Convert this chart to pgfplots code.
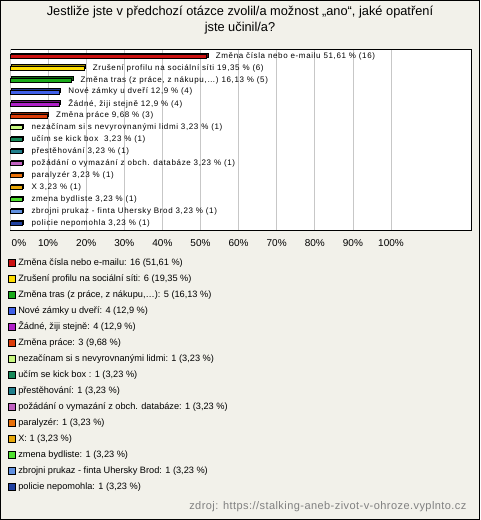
\documentclass[border=0pt]{standalone}
\usepackage{fontspec}
\setmainfont{Liberation Sans}
\newfontfamily\barfont[LetterSpace=8]{Liberation Sans}
\newfontfamily\srcfont[LetterSpace=4]{Liberation Sans}
\usepackage{pgfplots}
\pgfplotsset{compat=1.18}
\definecolor{bg}{HTML}{F2F1EA}
\definecolor{c1}{HTML}{CC1111}
\definecolor{c2}{HTML}{FFDD00}
\definecolor{c3}{HTML}{1AAA1A}
\definecolor{c4}{HTML}{4060E8}
\definecolor{c5}{HTML}{B020C8}
\definecolor{c6}{HTML}{DD3D0A}
\definecolor{c7}{HTML}{C8F880}
\definecolor{c8}{HTML}{168858}
\definecolor{c9}{HTML}{217F8C}
\definecolor{c10}{HTML}{C060C0}
\definecolor{c11}{HTML}{E8700A}
\definecolor{c12}{HTML}{E8A80A}
\definecolor{c13}{HTML}{50E030}
\definecolor{c14}{HTML}{6090E0}
\definecolor{c15}{HTML}{2040A0}
\newcommand{\mybar}[5]{%
  \addplot[fill=#1!60!black, draw=black, line width=0.4pt, xshift=1.3pt, yshift=1.3pt, forget plot] coordinates {(#2,#3)};
  \addplot[fill=#1, draw=black, line width=0.4pt, nodes near coords={#4}] coordinates {(#2,#3)};
  \addlegendentry{#5}
}
\begin{document}
\begin{tikzpicture}[x=1pt,y=1pt]
\fill[bg] (0,0) rectangle (480,-520);
\draw[black, line width=1pt] (0.5,-0.5) rectangle (479.5,-519.5);
\node[font=\fontsize{12.8}{16}\selectfont, align=center] at (240,-20) {Jestliže jste v předchozí otázce zvolil/a možnost „ano“, jaké opatření\\jste učinil/a?};
\node[anchor=east, text=black!50, font=\srcfont\fontsize{11}{13}\selectfont] at (470,-507) {zdroj: https://stalking-aneb-zivot-v-ohroze.vyplnto.cz};
\begin{axis}[
  at={(240.5pt,-139.5pt)}, anchor=center,
  scale only axis, width=461pt, height=181pt,
  xbar, bar width=4pt, bar shift=0pt,
  xmin=0, xmax=121, ymin=-0.59, ymax=14.58, y dir=reverse,
  axis background/.style={fill=white},
  axis line style={black, line width=0.8pt},
  xtick={10,20,...,100}, ytick=\empty,
  extra x ticks={0},
  extra x tick style={xticklabel style={anchor=north west, xshift=1.5pt}},
  xticklabel={\pgfmathprintnumber{\tick}\%},
  /pgf/number format/assume math mode=true,
  xticklabel style={font=\fontsize{10}{12}\selectfont, inner sep=0pt, yshift=-9pt},
  major tick length=0pt,
  xmajorgrids, grid style={draw=black!22, line width=0.6pt},
  every node near coord/.append style={anchor=west, font=\barfont\fontsize{8}{9}\selectfont, inner sep=0pt, xshift=9pt, text=black},
  legend style={at={(axis description cs:0,0)}, anchor=north west, xshift=-2pt, yshift=-28pt,
    draw=none, fill=none, inner sep=0pt, font=\fontsize{9.2}{11}\selectfont, row sep=7pt,
    cells={anchor=west}, nodes={inner ysep=0pt, inner xsep=2.5pt, text height=7pt, text depth=2pt}},
  legend image code/.code={\draw[#1, line width=0.6pt] (0pt,-3.5pt) rectangle (7pt,3.5pt);},
]
\mybar{c1}{51.61}{0}{Změna čísla nebo e-mailu 51,61 \% (16)}{Změna čísla nebo e-mailu: 16 (51,61 \%)}
\mybar{c2}{19.35}{1}{Zrušení profilu na sociální síti 19,35 \% (6)}{Zrušení profilu na sociální síti: 6 (19,35 \%)}
\mybar{c3}{16.13}{2}{Změna tras (z práce, z nákupu,…) 16,13 \% (5)}{Změna tras (z práce, z nákupu,…): 5 (16,13 \%)}
\mybar{c4}{12.9}{3}{Nové zámky u dveří 12,9 \% (4)}{Nové zámky u dveří: 4 (12,9 \%)}
\mybar{c5}{12.9}{4}{Žádné, žiji stejně 12,9 \% (4)}{Žádné, žiji stejně: 4 (12,9 \%)}
\mybar{c6}{9.68}{5}{Změna práce 9,68 \% (3)}{Změna práce: 3 (9,68 \%)}
\mybar{c7}{3.23}{6}{nezačínam si s nevyrovnanými lidmi 3,23 \% (1)}{nezačínam si s nevyrovnanými lidmi: 1 (3,23 \%)}
\mybar{c8}{3.23}{7}{učím se kick box \ 3,23 \% (1)}{učím se kick box : 1 (3,23 \%)}
\mybar{c9}{3.23}{8}{přestěhování 3,23 \% (1)}{přestěhování: 1 (3,23 \%)}
\mybar{c10}{3.23}{9}{požádání o vymazání z obch. databáze 3,23 \% (1)}{požádání o vymazání z obch. databáze: 1 (3,23 \%)}
\mybar{c11}{3.23}{10}{paralyzér 3,23 \% (1)}{paralyzér: 1 (3,23 \%)}
\mybar{c12}{3.23}{11}{X 3,23 \% (1)}{X: 1 (3,23 \%)}
\mybar{c13}{3.23}{12}{zmena bydliste 3,23 \% (1)}{zmena bydliste: 1 (3,23 \%)}
\mybar{c14}{3.23}{13}{zbrojni prukaz - finta Uhersky Brod 3,23 \% (1)}{zbrojni prukaz - finta Uhersky Brod: 1 (3,23 \%)}
\mybar{c15}{3.23}{14}{policie nepomohla 3,23 \% (1)}{policie nepomohla: 1 (3,23 \%)}
\end{axis}
\end{tikzpicture}
\end{document}
